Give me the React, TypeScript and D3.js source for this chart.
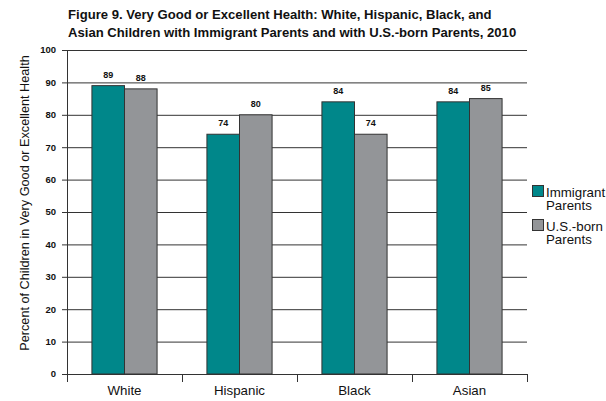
import React from "react";
import * as d3 from "d3";

const categories = ["White", "Hispanic", "Black", "Asian"];
const seriesNames = ["Immigrant Parents", "U.S.-born Parents"];
const immigrantValues = [89, 74, 84, 84];
const usBornValues = [88, 80, 74, 85];
const yTicks = [0, 10, 20, 30, 40, 50, 60, 70, 80, 90, 100];
const titleLines = [
  "Figure 9. Very Good or Excellent Health: White, Hispanic, Black, and",
  "Asian Children with Immigrant Parents and with U.S.-born Parents, 2010",
];
const yAxisTitle = "Percent of Children in Very Good or Excellent Health";
const legendLines = [["Immigrant", "Parents"], ["U.S.-born", "Parents"]];

const W = 606;
const H = 401;
const margin = { left: 67, right: 79, top: 50, bottom: 27 };
const colors = ["#00878A", "#939598"];
const font = "Arial, 'Liberation Sans', Helvetica, sans-serif";

export default function App() {
  const x0 = d3
    .scaleBand<string>()
    .domain(categories)
    .range([margin.left, W - margin.right])
    .paddingInner(0)
    .paddingOuter(0);
  const x1 = d3
    .scaleBand<string>()
    .domain(seriesNames)
    .range([0, x0.bandwidth()])
    .paddingInner(0)
    .paddingOuter(0.765);
  const y = d3
    .scaleLinear()
    .domain([0, 100])
    .range([H - margin.bottom, margin.top]);

  const seriesValues = [immigrantValues, usBornValues];
  const plotRight = W - margin.right;

  return (
    <svg
      width={W}
      height={H}
      style={{ position: "absolute", left: 0, top: 0, background: "#fff" }}
      fontFamily={font}
    >
      {titleLines.map((t, i) => (
        <text key={i} x={68} y={19 + i * 18} fontSize={13.1} fontWeight="bold" fill="#111">
          {t}
        </text>
      ))}

      {/* gridlines and y ticks */}
      {yTicks.map((t) => (
        <g key={t}>
          <line x1={margin.left - 5} x2={plotRight} y1={y(t) + 0.5} y2={y(t) + 0.5} stroke="#333" strokeWidth={1} />
          <text x={56} y={y(t)} dy="0.35em" textAnchor="end" fontSize={9.5} fontWeight="bold" fill="#111">
            {t}
          </text>
        </g>
      ))}

      {/* y axis line */}
      <line x1={margin.left + 0.5} x2={margin.left + 0.5} y1={y(100)} y2={y(0) + 8} stroke="#333" />

      {/* category separators */}
      {[...categories.map((c) => x0(c)!), plotRight].map((px, i) => (
        <line key={i} x1={Math.round(px) + 0.5} x2={Math.round(px) + 0.5} y1={y(0)} y2={y(0) + 8} stroke="#333" />
      ))}

      {/* bars */}
      {categories.map((c, ci) =>
        seriesNames.map((s, si) => {
          const v = seriesValues[si][ci];
          const bx = x0(c)! + x1(s)!;
          return (
            <g key={c + s}>
              <rect
                x={bx}
                y={y(v)}
                width={x1.bandwidth()}
                height={y(0) - y(v)}
                fill={colors[si]}
                stroke="#333"
                strokeWidth={1}
              />
              <text x={bx + x1.bandwidth() / 2} y={y(v) - 8} textAnchor="middle" fontSize={9} fontWeight="bold" fill="#111">
                {v}
              </text>
            </g>
          );
        })
      )}

      {/* x axis baseline */}
      <line x1={margin.left} x2={plotRight} y1={y(0) + 0.5} y2={y(0) + 0.5} stroke="#333" />

      {categories.map((c) => (
        <text key={c} x={x0(c)! + x0.bandwidth() / 2} y={395} textAnchor="middle" fontSize={13.3} fill="#111">
          {c}
        </text>
      ))}

      <text
        transform={`translate(29,203) rotate(-90)`}
        textAnchor="middle"
        fontSize={12.7}
        fill="#111"
      >
        {yAxisTitle}
      </text>

      {/* legend */}
      {legendLines.map((lines, i) => (
        <g key={i} transform={`translate(532,${185 + i * 34})`}>
          <rect x={0.5} y={0.5} width={11} height={11} fill={colors[i]} stroke="#333" />
          {lines.map((ln, j) => (
            <text key={j} x={14} y={11.5 + j * 13.5} fontSize={13.3} fill="#111">
              {ln}
            </text>
          ))}
        </g>
      ))}
    </svg>
  );
}
